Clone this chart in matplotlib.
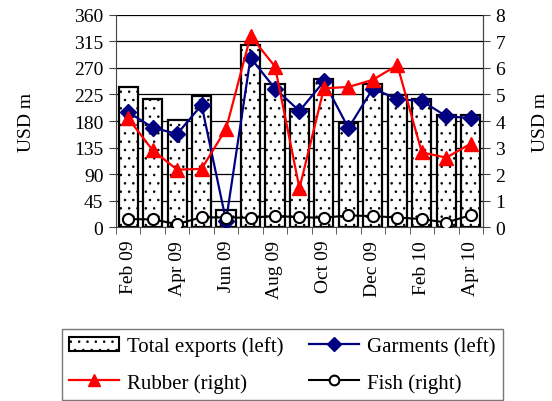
import matplotlib
matplotlib.use("Agg")
import matplotlib.pyplot as plt
import numpy as np
from matplotlib.lines import Line2D
from matplotlib.patches import Patch

months = ["Feb 09", "Mar 09", "Apr 09", "May 09", "Jun 09", "Jul 09", "Aug 09",
          "Sep 09", "Oct 09", "Nov 09", "Dec 09", "Jan 10", "Feb 10", "Mar 10", "Apr 10"]
total_exports = [238, 217, 182, 223, 29, 309, 242, 201, 251, 176, 242, 224, 217, 191, 191]
garments = [195, 169, 158, 207, 11, 287, 235, 197, 247, 168, 235, 217, 214, 188, 185]
rubber = [4.1, 2.9, 2.17, 2.2, 3.7, 7.2, 6.05, 1.47, 5.23, 5.28, 5.55, 6.1, 2.82, 2.62, 3.15]
fish = [0.31, 0.3, 0.12, 0.38, 0.37, 0.36, 0.43, 0.38, 0.36, 0.45, 0.42, 0.37, 0.31, 0.18, 0.46]
left_ticks = [0, 45, 90, 135, 180, 225, 270, 315, 360]
right_ticks = [0, 1, 2, 3, 4, 5, 6, 7, 8]

plt.rcParams['font.family'] = ['Liberation Serif', 'DejaVu Serif']
plt.rcParams['hatch.linewidth'] = 0.6
FS = 14
LFS = 15

fig = plt.figure(figsize=(5.52, 4.02), dpi=100)
ax = fig.add_axes([0.210, 0.432, 0.665, 0.529])
x = np.arange(len(months))

ax.bar(x, total_exports, width=0.78, facecolor='white', edgecolor='black',
       linewidth=1.6, hatch='..', zorder=2)
ax.plot(x, garments, color='#000080', marker='D', markersize=8, linewidth=1.6, zorder=4)

ax.set_xlim(-0.5, len(months) - 0.5)
ax.set_ylim(0, 360)
ax.set_yticks(left_ticks)
ax.set_yticklabels([str(t) for t in left_ticks], fontsize=FS)
ax.yaxis.grid(True, color='black', linewidth=0.9, zorder=0)
ax.set_axisbelow(True)
ax.set_xticks(x[::2])
ax.set_xticklabels(months[::2], rotation=90, fontsize=FS)
ax.set_xticks(np.arange(len(months) + 1) - 0.5, minor=True)
ax.tick_params(axis='x', which='major', length=0, pad=9)
ax.tick_params(axis='x', which='minor', length=5, direction='out', color='#444')
ax.tick_params(axis='y', length=5, direction='out', color='#444', pad=4)
ax.set_ylabel("USD m", fontsize=FS, labelpad=28)
for s in ['left', 'bottom', 'top']:
    ax.spines[s].set_color('#444')
ax.spines['top'].set_visible(False)

ax2 = ax.twinx()
ax2.plot(x, rubber, color='#ff0000', marker='^', markersize=10, linewidth=1.6, zorder=5)
ax2.plot(x, fish, color='black', marker='o', markersize=8, markerfacecolor='white',
         markeredgecolor='black', markeredgewidth=1.5, linewidth=1.5, zorder=5)
ax2.set_ylim(0, 8)
ax2.set_yticks(right_ticks)
ax2.set_yticklabels([str(t) for t in right_ticks], fontsize=FS)
ax2.tick_params(axis='y', length=5, direction='out', color='#444', pad=4)
ax2.set_ylabel("USD m", fontsize=FS, labelpad=19)
ax2.spines['right'].set_color('#444')
ax2.spines['top'].set_visible(False)
ax2.spines['left'].set_visible(False)
ax2.spines['bottom'].set_visible(False)

h_total = Patch(facecolor='white', edgecolor='black', hatch='..', linewidth=1.5)
h_garm = Line2D([], [], color='#000080', marker='D', markersize=7, linewidth=1.6)
h_rub = Line2D([], [], color='#ff0000', marker='^', markersize=9, linewidth=1.6)
h_fish = Line2D([], [], color='black', marker='o', markersize=7, markerfacecolor='white',
                markeredgewidth=1.5, linewidth=1.5)
leg = fig.legend([h_total, h_rub, h_garm, h_fish],
                 ["Total exports (left)", "Rubber (right)", "Garments (left)", "Fish (right)"],
                 ncol=2, loc='upper left', bbox_to_anchor=(0.112, 0.179),
                 fontsize=LFS, frameon=True, fancybox=False,
                 edgecolor='#555', handlelength=2.4, handletextpad=0.4,
                 columnspacing=1.2, borderpad=0.35, labelspacing=0.8, borderaxespad=0)
leg.get_frame().set_linewidth(1.0)

fig.savefig("out.png", dpi=100)
